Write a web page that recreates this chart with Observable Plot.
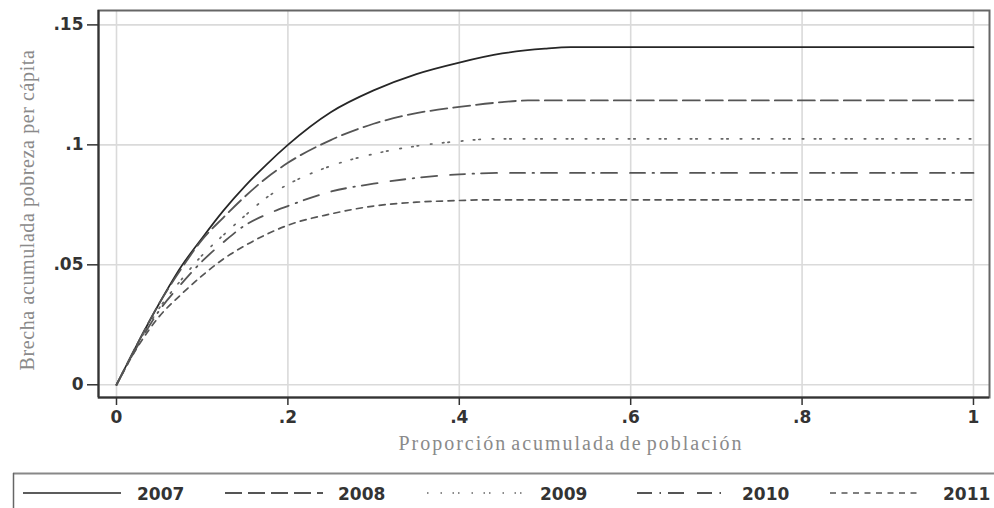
<!DOCTYPE html>
<html><head><meta charset="utf-8">
<script src="https://cdn.jsdelivr.net/npm/d3@7"></script>
<script src="https://cdn.jsdelivr.net/npm/@observablehq/plot@0.6"></script>
<style>
body{margin:0;background:#fff;}
#chart{width:994px;height:508px;position:relative;overflow:hidden;}
#chart svg{display:block;}
</style>
</head><body><div id="chart"></div>
<script>
const years = ["2007", "2008", "2009", "2010", "2011"];

const x2007 = [0, .025, .05, .075, .1, .125, .15, .175, .2, .25, .3, .35, .4, .45, .5, .53, 1];
const y2007 = [0, .0175, .034, .049, .0612, .0727, .0828, .0918, .1, .1136, .1227, .1295, .1343, .1381, .1401, .1407, .1407];

const x2008 = [0, .025, .05, .075, .1, .125, .15, .175, .2, .25, .3, .35, .4, .45, .48, 1];
const y2008 = [0, .0175, .034, .048, .0605, .0698, .0785, .0862, .0925, .102, .1088, .1132, .1158, .1178, .1185, .1185];

const x2009 = [0, .025, .05, .075, .1, .125, .15, .175, .2, .25, .3, .35, .4, .44, 1];
const y2009 = [0, .017, .032, .0435, .054, .0625, .0705, .078, .0835, .0912, .0962, .0995, .1015, .1025, .1025];

const x2010 = [0, .025, .05, .075, .1, .125, .15, .175, .2, .25, .3, .35, .4, .45, 1];
const y2010 = [0, .0165, .031, .0418, .0515, .0595, .0665, .071, .0745, .0805, .0838, .0862, .0877, .0883, .0883];

const x2011 = [0, .025, .05, .075, .1, .125, .15, .175, .2, .25, .3, .35, .4, .43, 1];
const y2011 = [0, .016, .0285, .0375, .0455, .0525, .058, .0627, .0665, .0712, .0745, .0761, .0768, .0771, .0771];

const xTicks = [0, .2, .4, .6, .8, 1];
const xTickLabels = ["0", ".2", ".4", ".6", ".8", "1"];
const yTicks = [0, .05, .1, .15];
const yTickLabels = ["0", ".05", ".1", ".15"];

const xTitle = "Proporción acumulada de población";
const yTitle = "Brecha acumulada pobreza per cápita";

// ---- build table ----
const seriesX = {"2007": x2007, "2008": x2008, "2009": x2009, "2010": x2010, "2011": x2011};
const seriesY = {"2007": y2007, "2008": y2008, "2009": y2009, "2010": y2010, "2011": y2011};
const rows = years.flatMap(yr => seriesX[yr].map((x, i) => ({year: yr, x, y: seriesY[yr][i]})));

const lineStyle = {
  "2007": {stroke: "#262626", strokeWidth: 1.7, dash: null},
  "2008": {stroke: "#555", strokeWidth: 1.8, dash: "17,6"},
  "2009": {stroke: "#666", strokeWidth: 1.7, dash: "1.5,12,1.5,10.5,1.5,4"},
  "2010": {stroke: "#555", strokeWidth: 1.8, dash: "15,7.5,1.5,7,16,13"},
  "2011": {stroke: "#555", strokeWidth: 1.7, dash: "6,5.5"}
};

const xDomain = [-0.021, 1.0187];
const yDomain = [-0.0053, 0.156];

const chart = Plot.plot({
  width: 994,
  height: 470,
  marginLeft: 98,
  marginRight: 5,
  marginTop: 10,
  marginBottom: 73,
  x: {domain: xDomain},
  y: {domain: yDomain},
  style: {fontFamily: "DejaVu Sans", fontSize: "17px", fontWeight: "bold", color: "#333", background: "white"},
  marks: [
    Plot.gridX(xTicks, {stroke: "#dadada", strokeOpacity: 1, strokeWidth: 1.6}),
    Plot.gridY(yTicks, {stroke: "#dadada", strokeOpacity: 1, strokeWidth: 1.6}),
    ...years.map(yr => Plot.line(rows.filter(d => d.year === yr), {
      x: "x", y: "y", curve: "monotone-x",
      stroke: lineStyle[yr].stroke,
      strokeWidth: lineStyle[yr].strokeWidth,
      strokeDasharray: lineStyle[yr].dash
    })),
    Plot.frame({stroke: "#666", strokeWidth: 2}),
    Plot.ruleX([xDomain[0]], {stroke: "#333", strokeWidth: 2}),
    Plot.ruleY([yDomain[0]], {stroke: "#333", strokeWidth: 2}),
    Plot.axisX(xTicks, {tickFormat: d => xTickLabels[xTicks.indexOf(d)], tickSize: 8, tickPadding: 5, stroke: "#333", strokeWidth: 1.5, label: null}),
    Plot.axisY(yTicks, {tickFormat: d => yTickLabels[yTicks.indexOf(d)], tickSize: 11, tickPadding: 4, stroke: "#333", strokeWidth: 1.5, label: null}),
    Plot.text([xTitle], {frameAnchor: "bottom", dy: 52, dx: 27, text: d => d, fontFamily: "Liberation Serif", fontSize: 20, fontWeight: "normal", fill: "#8a8a8a"}),
    Plot.text([yTitle], {frameAnchor: "left", dx: -71, dy: 6, rotate: -90, textAnchor: "middle", text: d => d, fontFamily: "Liberation Serif", fontSize: 20, fontWeight: "normal", fill: "#8a8a8a"})
  ]
});

d3.select(chart).selectAll("text").filter(function() { return this.textContent === xTitle; })
  .attr("letter-spacing", "2px").attr("word-spacing", "-3px");
d3.select(chart).selectAll("text").filter(function() { return this.textContent === yTitle; })
  .attr("letter-spacing", "0.6px");

document.getElementById("chart").appendChild(chart);

// ---- legend ----
const legendPos = {
  "2007": {x0: 23, x1: 121, tx: 137},
  "2008": {x0: 225, x1: 323, tx: 338},
  "2009": {x0: 427, x1: 522, tx: 540},
  "2010": {x0: 637, x1: 727, tx: 742},
  "2011": {x0: 830, x1: 922, tx: 943}
};
const leg = d3.create("svg").attr("width", 994).attr("height", 38)
  .style("font-family", "DejaVu Sans").style("font-size", "17px").style("font-weight", "bold");
leg.append("line").attr("x1", 13).attr("x2", 994).attr("y1", 3.5).attr("y2", 3.5).attr("stroke", "#888").attr("stroke-width", 2);
leg.append("line").attr("x1", 13.5).attr("x2", 13.5).attr("y1", 3).attr("y2", 38).attr("stroke", "#666").attr("stroke-width", 1.5);
years.forEach(yr => {
  const p = legendPos[yr], s = lineStyle[yr];
  const l = leg.append("line").attr("x1", p.x0).attr("x2", p.x1).attr("y1", 23).attr("y2", 23)
    .attr("stroke", s.stroke).attr("stroke-width", s.strokeWidth);
  if (s.dash) l.attr("stroke-dasharray", s.dash);
  leg.append("text").attr("x", p.tx).attr("y", 30).attr("fill", "#333").text(yr);
});
document.getElementById("chart").appendChild(leg.node());
</script>
</body></html>
